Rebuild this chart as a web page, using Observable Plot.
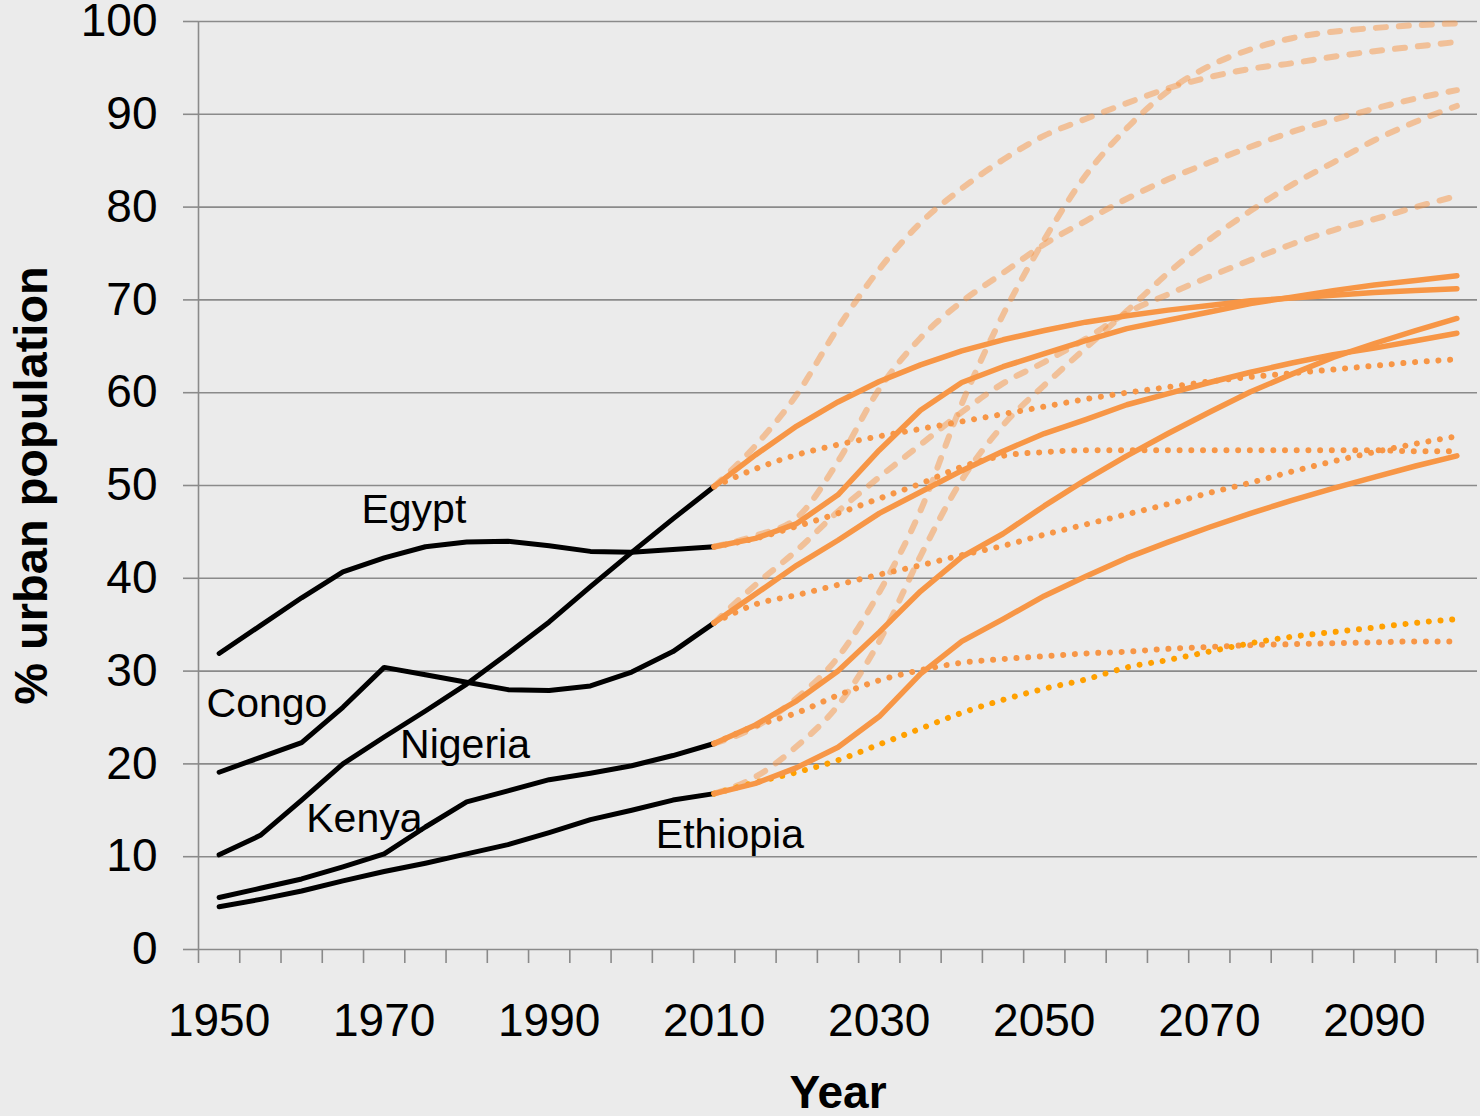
<!DOCTYPE html>
<html>
<head>
<meta charset="utf-8">
<script src="https://cdn.jsdelivr.net/npm/d3@7"></script>
<script src="https://cdn.jsdelivr.net/npm/@observablehq/plot@0.6"></script>
<style>
  html, body { margin: 0; padding: 0; background: #ebebeb; }
  #chart svg { display: block; }
</style>
</head>
<body>
<div id="chart"></div>
<script>
// ---------- DATA ----------
const categoryYears = [1950,1955,1960,1965,1970,1975,1980,1985,1990,1995,2000,2005,2010,2015,2020,2025,2030,2035,2040,2045,2050,2055,2060,2065,2070,2075,2080,2085,2090,2095,2100];
const xLabelYears = [1950,1970,1990,2010,2030,2050,2070,2090];
const yTicks = [0,10,20,30,40,50,60,70,80,90,100];

const histYears = [1950,1955,1960,1965,1970,1975,1980,1985,1990,1995,2000,2005,2010];
const projYears = [2010,2015,2020,2025,2030,2035,2040,2045,2050,2055,2060,2065,2070,2075,2080,2085,2090,2095,2100];

const countries = ["Egypt","Congo","Nigeria","Kenya","Ethiopia"];

// historical % urban (black)
const egyptHist    = [31.9,34.9,37.9,40.7,42.2,43.4,43.9,44.0,43.5,42.9,42.8,43.1,43.4];
const congoHist    = [19.1,20.7,22.3,26.1,30.4,29.6,28.8,28.0,27.9,28.4,29.9,32.1,35.2];
const nigeriaHist  = [10.2,12.3,16.1,20.0,22.9,25.7,28.6,31.9,35.3,39.1,42.8,46.4,49.9];
const kenyaHist    = [5.6,6.6,7.6,8.9,10.3,13.2,15.9,17.1,18.3,19.0,19.8,20.9,22.2];
const ethiopiaHist = [4.6,5.4,6.3,7.4,8.4,9.3,10.3,11.3,12.6,14.0,15.0,16.1,16.8];

// projections: solid scenario
const egyptSolid    = [43.4,44.3,45.9,49.0,53.8,58.1,61.1,62.8,64.2,65.6,66.9,67.8,68.7,69.6,70.3,71.0,71.6,72.1,72.6];
const congoSolid    = [35.2,38.3,41.4,44.1,47.0,49.3,51.6,53.7,55.6,57.1,58.7,59.9,61.1,62.2,63.2,64.1,64.8,65.6,66.4];
const nigeriaSolid  = [49.9,53.3,56.4,59.0,61.2,63.0,64.5,65.7,66.7,67.6,68.3,68.9,69.4,69.9,70.2,70.5,70.8,71.0,71.2];
const kenyaSolid    = [22.2,24.2,26.8,30.0,34.2,38.6,42.3,44.8,47.8,50.6,53.2,55.6,57.9,60.1,62.0,63.8,65.3,66.7,68.0];
const ethiopiaSolid = [16.8,17.9,19.6,21.8,25.1,29.7,33.2,35.6,38.1,40.2,42.2,43.9,45.5,47.0,48.4,49.7,50.9,52.1,53.2];

// projections: dashed scenario
const egyptDashed    = [43.4,44.6,46.5,52.6,60.4,65.9,69.8,72.9,76.0,78.5,80.9,83.0,84.8,86.5,88.1,89.4,90.6,91.7,92.6];
const congoDashed    = [35.2,39.3,43.0,47.2,50.9,54.4,57.9,61.0,63.3,65.8,68.6,70.6,72.5,74.3,76.0,77.5,78.7,80.0,81.2];
const nigeriaDashed  = [49.9,54.3,59.8,67.0,73.3,78.3,82.0,85.1,87.7,89.5,91.2,92.8,94.0,94.9,95.5,96.2,96.8,97.3,97.8];
const kenyaDashed    = [22.2,24.0,27.1,31.5,38.5,47.3,58.8,68.4,76.5,83.4,88.5,92.5,95.2,97.0,98.2,98.9,99.3,99.6,99.8];
const ethiopiaDashed = [16.8,18.6,21.9,26.3,33.2,42.4,50.6,56.5,60.8,64.8,68.8,72.9,76.5,79.6,82.4,84.8,87.2,89.2,90.9];

// projections: dotted scenario
const egyptDotted    = [43.4,44.3,45.6,47.0,48.6,50.2,52.0,53.2,53.6,53.8,53.8,53.8,53.8,53.8,53.8,53.8,53.8,53.7,53.7];
const congoDotted    = [35.2,37.2,38.2,39.3,40.4,41.4,42.5,43.5,44.7,45.8,46.9,48.0,49.2,50.3,51.5,52.6,53.6,54.5,55.3];
const nigeriaDotted  = [49.9,51.8,53.3,54.4,55.3,56.1,56.9,57.7,58.5,59.3,60.0,60.6,61.2,61.7,62.1,62.5,62.9,63.3,63.6];
const kenyaDotted    = [22.2,24.1,25.5,27.4,29.0,30.1,30.9,31.3,31.6,31.9,32.1,32.4,32.6,32.8,32.9,33.0,33.1,33.2,33.2];
const ethiopiaDotted = [16.8,18.0,19.1,20.4,22.1,23.8,25.5,26.9,28.1,29.1,30.4,31.2,32.1,33.0,33.7,34.2,34.7,35.2,35.6];

// country label annotations (name, year, % urban at label centre)
const labelNames  = ["Egypt","Congo","Nigeria","Kenya","Ethiopia"];
const labelYears  = [1973.6,1955.8,1979.8,1967.6,2011.9];
const labelValues = [47.4,26.5,22.1,14.1,12.4];

// ---------- BUILD TABLES ----------
const tidy = (years, vals, series) => years.map((y, i) => ({year: y, value: vals[i], series}));
const histData = [
  ...tidy(histYears, egyptHist, "Egypt"),
  ...tidy(histYears, congoHist, "Congo"),
  ...tidy(histYears, nigeriaHist, "Nigeria"),
  ...tidy(histYears, kenyaHist, "Kenya"),
  ...tidy(histYears, ethiopiaHist, "Ethiopia")
];
const solidData = [
  ...tidy(projYears, egyptSolid, "Egypt"),
  ...tidy(projYears, congoSolid, "Congo"),
  ...tidy(projYears, nigeriaSolid, "Nigeria"),
  ...tidy(projYears, kenyaSolid, "Kenya"),
  ...tidy(projYears, ethiopiaSolid, "Ethiopia")
];
const dashedData = [
  ...tidy(projYears, egyptDashed, "Egypt"),
  ...tidy(projYears, congoDashed, "Congo"),
  ...tidy(projYears, nigeriaDashed, "Nigeria"),
  ...tidy(projYears, kenyaDashed, "Kenya"),
  ...tidy(projYears, ethiopiaDashed, "Ethiopia")
];
const dottedData = [
  ...tidy(projYears, egyptDotted, "Egypt"),
  ...tidy(projYears, congoDotted, "Congo"),
  ...tidy(projYears, nigeriaDotted, "Nigeria"),
  ...tidy(projYears, kenyaDotted, "Kenya")
];
const dottedEthiopia = tidy(projYears, ethiopiaDotted, "Ethiopia");
const labelData = labelNames.map((n, i) => ({name: n, year: labelYears[i], value: labelValues[i]}));

const half = (categoryYears[1] - categoryYears[0]) / 2;
const xDomain = [categoryYears[0] - half, categoryYears[categoryYears.length - 1] + half];
const tickBounds = [...categoryYears.map(y => y - half), xDomain[1]];

const axisGray = "#8a8a8a";
const orange = "#F79646";

const chart = Plot.plot({
  width: 1480,
  height: 1116,
  marginLeft: 198,
  marginRight: 3,
  marginTop: 21,
  marginBottom: 167,
  style: {background: "#ebebeb", fontFamily: "'Liberation Sans', Arial, sans-serif", color: "#000"},
  x: {domain: xDomain},
  y: {domain: [0, 100]},
  marks: [
    Plot.gridY(yTicks, {stroke: axisGray, strokeOpacity: 1, strokeWidth: 1.6}),
    Plot.axisY(yTicks, {tickSize: 15, tickPadding: 26, fontSize: 46, stroke: axisGray, strokeWidth: 1.6, fill: "#000", label: null, tickFormat: d => String(d)}),
    Plot.ruleX([xDomain[0]], {stroke: axisGray, strokeWidth: 1.6}),
    Plot.axisX(tickBounds, {tickSize: 14, tickFormat: () => "", stroke: axisGray, strokeWidth: 1.6, label: null}),
    Plot.axisX(xLabelYears, {tickSize: 0, tickPadding: 54, fontSize: 46, fill: "#000", label: null, tickFormat: d => String(d)}),

    Plot.line(histData, {x: "year", y: "value", z: "series", stroke: "#000", strokeWidth: 5, strokeLinecap: "round", strokeLinejoin: "round"}),
    Plot.line(dashedData, {x: "year", y: "value", z: "series", stroke: orange, strokeOpacity: 0.5, strokeWidth: 6, strokeDasharray: "10,13", strokeLinecap: "round", strokeLinejoin: "round", curve: "monotone-x"}),
    Plot.line(dottedData, {x: "year", y: "value", z: "series", stroke: orange, strokeWidth: 6, strokeDasharray: "0.01,11.7", strokeLinecap: "round", strokeLinejoin: "round", curve: "monotone-x"}),
    Plot.line(dottedEthiopia, {x: "year", y: "value", stroke: "#FFA000", strokeWidth: 6, strokeDasharray: "0.01,11.7", strokeLinecap: "round", strokeLinejoin: "round", curve: "monotone-x"}),
    Plot.line(solidData, {x: "year", y: "value", z: "series", stroke: orange, strokeWidth: 5.5, strokeLinecap: "round", strokeLinejoin: "round"}),

    Plot.text(labelData, {x: "year", y: "value", text: "name", fontSize: 41, fill: "#000"}),
    Plot.text(["Year"], {frameAnchor: "bottom", textAnchor: "middle", lineAnchor: "middle", dy: 144, fontSize: 46, fontWeight: "bold", fill: "#000"}),
    Plot.text(["% urban population"], {frameAnchor: "left", textAnchor: "middle", lineAnchor: "middle", dx: -167, rotate: -90, fontSize: 47, fontWeight: "bold", fill: "#000"})
  ]
});
document.getElementById("chart").appendChild(chart);
</script>
</body>
</html>
